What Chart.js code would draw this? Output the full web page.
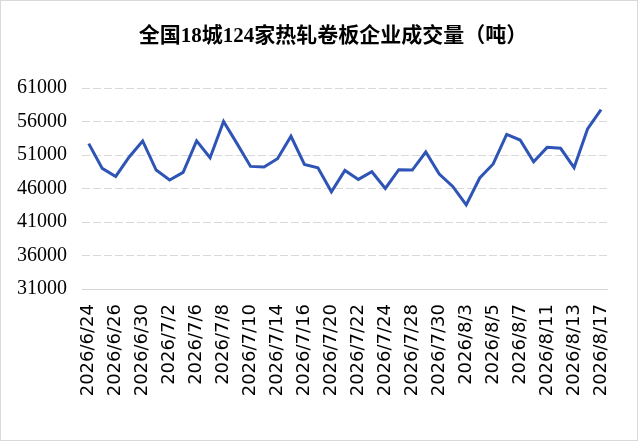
<!DOCTYPE html>
<html>
<head>
<meta charset="utf-8">
<script src="https://cdn.jsdelivr.net/npm/chart.js@4"></script>
<style>
	html, body { margin: 0; padding: 0; background: #fff; }
	#wrap { position: relative; width: 638px; height: 441px; }
	#chartTitle {
		position: absolute;
		left: 333px;
		top: 23px;
		transform: translateX(-50%);
		white-space: nowrap;
		font-family: "Liberation Serif", "Noto Sans CJK SC";
		font-weight: bold;
		font-size: 21px;
		line-height: 24px;
		color: #000;
	}
</style>
</head>
<body>
<div id="wrap">
	<canvas id="volumeChart" width="638" height="441"></canvas>
	<div id="chartTitle">全国18城124家热轧卷板企业成交量（吨）</div>
</div>
<script>
// trading days
var dates = [
	"2026/6/24", "2026/6/25", "2026/6/26", "2026/6/29", "2026/6/30",
	"2026/7/1", "2026/7/2", "2026/7/3", "2026/7/6", "2026/7/7", "2026/7/8", "2026/7/9", "2026/7/10",
	"2026/7/13", "2026/7/14", "2026/7/15", "2026/7/16", "2026/7/17",
	"2026/7/20", "2026/7/21", "2026/7/22", "2026/7/23", "2026/7/24",
	"2026/7/27", "2026/7/28", "2026/7/29", "2026/7/30", "2026/7/31",
	"2026/8/3", "2026/8/4", "2026/8/5", "2026/8/6", "2026/8/7",
	"2026/8/10", "2026/8/11", "2026/8/12", "2026/8/13", "2026/8/14", "2026/8/17"
];
var volumes = [
	52700, 49000, 47800, 50700, 53100,
	48760, 47270, 48400, 53100, 50600, 56000, 52700, 49300,
	49200, 50450, 53800, 49600, 49100,
	45500, 48700, 47360, 48500, 46000,
	48800, 48750, 51450, 48160, 46300,
	43540, 47570, 49660, 54080, 53240,
	50000, 52140, 52000, 49100, 54880, 57760
];
var yTicks = [31000, 36000, 41000, 46000, 51000, 56000, 61000];

var frameBorder = {
	id: "frameBorder",
	afterDraw: function (chart) {
		var ctx = chart.ctx;
		ctx.save();
		ctx.strokeStyle = "#d9d9d9";
		ctx.lineWidth = 1;
		ctx.strokeRect(0.5, 0.5, chart.width - 1, chart.height - 1);
		ctx.restore();
	}
};

new Chart(document.getElementById("volumeChart"), {
	type: "line",
	data: {
		labels: dates,
		datasets: [{
			data: volumes,
			borderColor: "#2E54B5",
			borderWidth: 3,
			pointRadius: 0,
			tension: 0,
			fill: false
		}]
	},
	options: {
		responsive: false,
		animation: false,
		devicePixelRatio: 1,
		layout: { padding: { left: 8, right: 28, top: 88, bottom: 0 } },
		plugins: {
			legend: { display: false },
			tooltip: { enabled: false },
			title: { display: false }
		},
		scales: {
			x: {
				offset: true,
				grid: { display: false, drawTicks: false },
				border: { display: true, color: "#d4d4d4", width: 1 },
				afterFit: function (scale) { scale.height = 152; },
				ticks: {
					autoSkip: false,
					minRotation: 90,
					maxRotation: 90,
					padding: 15,
					color: "#000",
					font: { family: "'DejaVu Sans'", size: 18 },
					callback: function (value, index) {
						return index % 2 === 0 ? this.getLabelForValue(value) : "";
					}
				}
			},
			y: {
				min: 31000,
				max: 61000,
				afterFit: function (scale) { scale.width = 74; },
				afterBuildTicks: function (scale) {
					scale.ticks = yTicks.map(function (v) { return { value: v }; });
				},
				grid: { color: "#d9d9d9", lineWidth: 1, drawTicks: false },
				border: { display: false, dash: [8, 3] },
				ticks: {
					padding: 15,
					color: "#000",
					font: { family: "'Liberation Serif'", size: 20 },
					callback: function (value) { return String(value); }
				}
			}
		}
	},
	plugins: [frameBorder]
});
</script>
</body>
</html>
